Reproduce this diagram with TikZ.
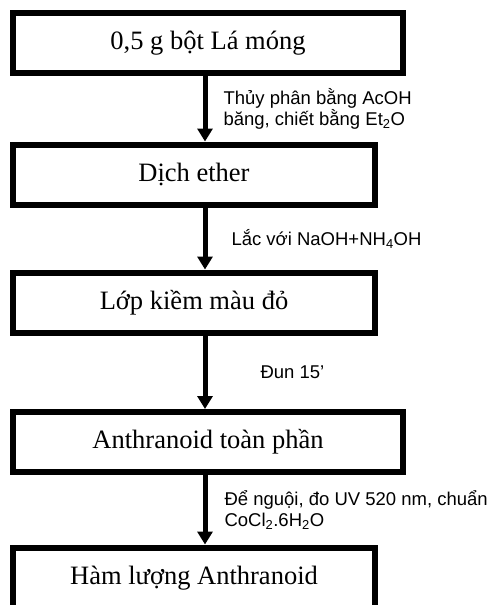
\documentclass[tikz,border=0pt]{standalone}
\usepackage{fontspec}
\setmainfont{Liberation Serif}
\setsansfont{Liberation Sans}
\usetikzlibrary{arrows.meta}
\tikzset{
  box/.style={draw, line width=6pt, line join=miter, inner sep=0pt, minimum height=60pt, text height=19pt, text depth=6pt, font=\fontsize{26.5}{30}\selectfont},
  arr/.style={line width=5pt, -{Triangle[width=15pt,length=13pt]}},
  lbl/.style={anchor=west, inner sep=0pt, align=left, font=\sffamily\fontsize{18.5}{21}\selectfont}
}
\begin{document}
\begin{tikzpicture}[x=1pt,y=-1pt]
\clip (0,0) rectangle (488,605);
\coordinate (axis) at (205,0);
\node[box, minimum width=390pt] (lamong) at (208,42.5) {0,5 g bột Lá móng};
\node[box, minimum width=362pt] (ether) at (194,174.5) {Dịch ether};
\node[box, minimum width=362pt] (kiem) at (194,302.5) {Lớp kiềm màu đỏ};
\node[box, minimum width=390pt] (toanphan) at (208,442) {Anthranoid toàn phần};
\node[box, minimum width=362pt, minimum height=61pt] (hamluong) at (194,578) {Hàm lượng Anthranoid};
\draw[arr] (lamong.south -| axis) -- node[lbl, xshift=16pt] {Thủy phân bằng AcOH\\băng, chiết bằng Et\textsubscript{2}O} (ether.north -| axis);
\draw[arr] (ether.south -| axis) -- node[lbl, xshift=24pt] {Lắc với NaOH+NH\textsubscript{4}OH} (kiem.north -| axis);
\draw[arr] (kiem.south -| axis) -- node[lbl, xshift=53pt] {Đun 15’} (toanphan.north -| axis);
\draw[arr] (toanphan.south -| axis) -- node[lbl, xshift=17pt] {Để nguội, đo UV 520 nm, chuẩn\\CoCl\textsubscript{2}.6H\textsubscript{2}O} (hamluong.north -| axis);
\end{tikzpicture}
\end{document}
